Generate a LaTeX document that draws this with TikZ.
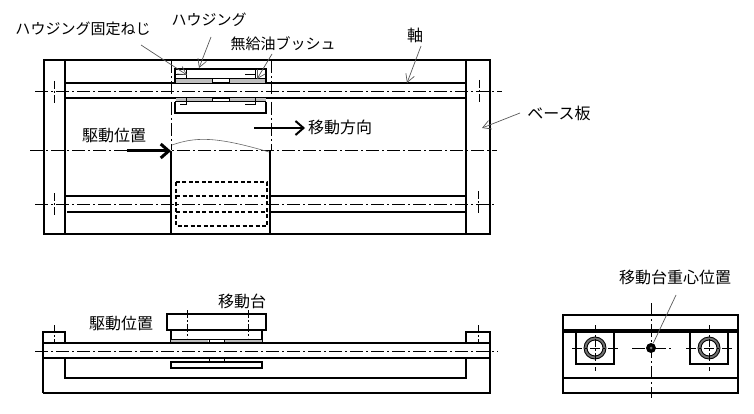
\documentclass[tikz,border=0pt]{standalone}
\usepackage{fontspec}
\newfontfamily\jpfont{Noto Sans CJK JP}
\usetikzlibrary{arrows.meta}
\tikzset{
  part/.style={line width=1.7pt},
  hidden/.style={line width=1.5pt,dash pattern=on 4pt off 2.5pt},
  center/.style={line width=0.6pt,dash pattern=on 13pt off 3pt on 2pt off 3pt},
  short/.style={line width=0.7pt,dash pattern=on 8pt off 2pt on 2pt off 2pt},
  bush/.style={fill=black!25,draw=none},
  leader/.style={-{Straight Barb[length=8pt,width=9pt]},line width=0.7pt,draw=black!65},
  motion/.style={-{Straight Barb[length=8pt,width=14pt]},line width=3pt},
  label/.style={inner sep=0pt,font=\fontsize{16}{16}\selectfont\jpfont},
  smalllabel/.style={inner sep=0pt,font=\fontsize{15}{15}\selectfont\jpfont}
}
\begin{document}
\begin{tikzpicture}[x=1pt,y=-1pt]
  \useasboundingbox (0,0) rectangle (754,414);
  % plan view
  \draw[part] (44,60) rectangle (490,234);
  \draw[part] (65,60) -- (65,234) (466,60) -- (466,234);
  \draw[part] (65,83) -- (466,83) (65,98) -- (466,98);
  \draw[part] (65,196) -- (171,196) (67,212) -- (171,212);
  \draw[part] (270,196) -- (466,196) (270,212) -- (466,212);
  \draw[part] (171,151) -- (171,234) (270,151) -- (270,234);
  \draw[center] (35,91) -- (502,91) (30,150) -- (497,150) (35,204) -- (494,204);
  \draw[center] (171,60) -- (171,150) (271,60) -- (271,150);
  \foreach \xx/\yy in {54/92,479/91,54/204,478/202}
    \draw[short] (\xx,\yy-11) -- (\xx,\yy+12);
  \draw[line width=0.6pt,black!60] (172,145) .. controls (195,137) and (215,136) .. (269,152);
  % housing
  \foreach \xa/\xb in {176/212,229/266}{
    \fill[bush] (\xa,79) rectangle (\xb,83);
    \fill[bush] (\xa,98) rectangle (\xb,102);
  }
  \draw[part] (175,83) |- (266,69) -- (266,83);
  \draw[part] (175,102) |- (266,113) -- (266,102);
  \draw[line width=1pt] (175,79) -- (266,79) (175,102) -- (266,102);
  \draw[line width=1pt] (212,79) -- (212,83) (229,79) -- (229,83);
  \draw[line width=1pt] (212,98) -- (212,102) (229,98) -- (229,102);
  \draw[line width=1pt] (176,75) -| (186,69) (186,79) -- (186,75);
  \draw[line width=1pt] (245,75) -| (255,69) (255,79) -- (255,75);
  \draw[line width=1pt] (180,105) -| (186,98) (245,105) -| (255,98);
  \draw[hidden] (176,182) rectangle (267,226);
  \draw[hidden] (176,196) -- (267,196) (176,212) -- (267,212);
  \node[smalllabel] (screw) at (83,29) {ハウジング固定ねじ};
  \node[smalllabel] (housing) at (209,20) {ハウジング};
  \node[smalllabel] (bushing) at (283,44) {無給油ブッシュ};
  \node[label] (shaft) at (415,35) {軸};
  \node[label] (base) at (559,113) {ベース板};
  \node[label] (drive) at (114,135) {駆動位置};
  \node[label] (dir) at (340,127) {移動方向};
  \coordinate (screwend) at (187,75);
  \coordinate (housingend) at (199,68);
  \coordinate (bushingend) at (257,79);
  \coordinate (shaftend) at (407,83);
  \coordinate (baseend) at (482,128);
  \coordinate (drivestart) at (127,151);
  \coordinate (driveend) at (171,151);
  \coordinate (dirstart) at (254,128);
  \coordinate (dirend) at (305,128);
  \draw[leader] (141,45) -- (screwend);
  \draw[leader] (211,37) -- (housingend);
  \draw[leader] (272,54) -- (bushingend);
  \draw[leader] (421,46) -- (shaftend);
  \draw[leader] (520,113) -- (baseend);
  \draw[motion] (drivestart) -- (driveend);
  \draw[motion,line width=2pt] (dirstart) -- (dirend);
  % front view
  \draw[part] (43,393) |- (65,332) -- (65,343) (65,358) -- (65,378) -- (466,378) -- (466,358);
  \draw[part] (466,343) -- (466,332) -| (490,393) -- (43,393);
  \draw[part] (43,343) -- (490,343) (43,358) -- (490,358);
  \draw[part] (167,314) rectangle (266,330);
  \draw[part] (171,330) -- (171,343) (262,330) -- (262,343);
  \draw[part] (171,362) rectangle (262,368);
  \fill[bush] (171,339) rectangle (208,342);
  \fill[bush] (224,339) rectangle (262,342);
  \draw[line width=1pt] (171,339) -- (262,339);
  \draw[line width=1pt] (209,339) -- (209,343) (224,339) -- (224,343);
  \draw[line width=1pt] (209,358) -- (209,362) (224,358) -- (224,362);
  \draw[center] (35,351) -- (498,351);
  \draw[short] (187,310) -- (187,338) (248,310) -- (248,338);
  \draw[short] (54,325) -- (54,343) (478,325) -- (478,343);
  \node[label] (table) at (242,301) {移動台};
  \node[label] (drivefront) at (121,323) {駆動位置};
  % side view
  \draw[part] (563,315) rectangle (738,393);
  \draw[line width=3.5pt] (563,331) -- (738,331);
  \draw[part] (563,378) -- (738,378);
  \draw[part] (576,331) |- (614,364) -- (614,331);
  \draw[part] (690,331) |- (728,364) -- (728,331);
  \foreach \cx in {595,709}{
    \draw[line width=2.5pt,black!55] (\cx,348) circle (9.5);
    \draw[line width=0.9pt] (\cx,348) circle (11);
    \draw[line width=0.9pt] (\cx,348) circle (8);
    \draw[short] (\cx,325) -- (\cx,371);
    \draw[line width=0.7pt,dash pattern=on 10pt off 3pt on 2pt off 3pt] (\cx-23,348) -- (\cx+23,348);
  }
  \draw[center] (632,348) -- (672,348);
  \draw[center] (651,303) -- (651,398);
  \node[circle,fill=black,minimum size=10pt,inner sep=0pt] (cog) at (651,348) {};
  \fill[black!55] (651,348) circle (1.5);
  \node[label] (cogtext) at (675,277) {移動台重心位置};
  \coordinate (cogstart) at (676,295);
  \draw[line width=0.7pt,draw=black!65] (cogstart) -- (cog);
\end{tikzpicture}
\end{document}
